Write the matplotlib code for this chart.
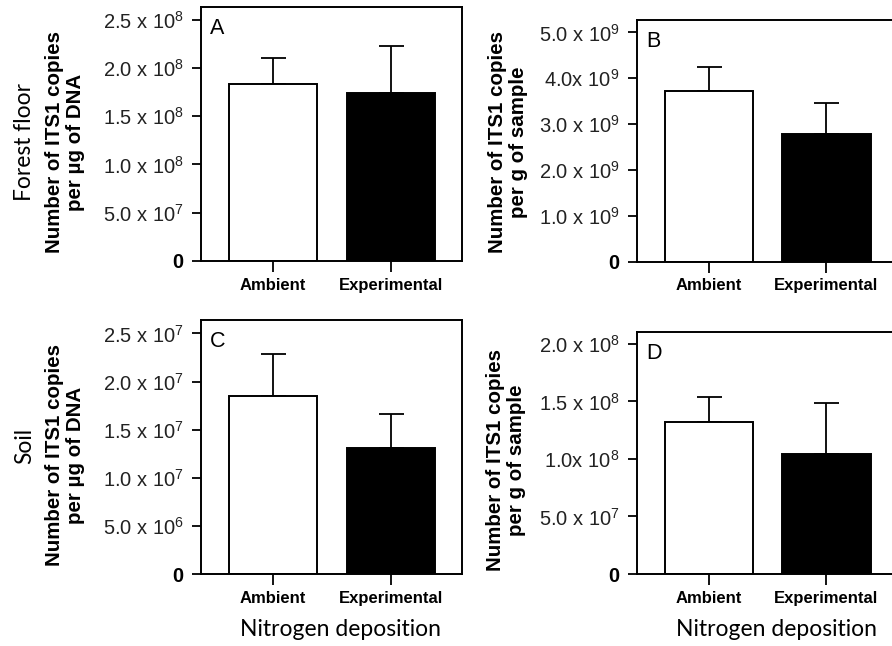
import matplotlib
matplotlib.use("Agg")
import matplotlib.pyplot as plt

plt.rcParams['font.family'] = ['Liberation Sans', 'DejaVu Sans']
plt.rcParams['mathtext.fontset'] = 'custom'
plt.rcParams['mathtext.rm'] = 'Liberation Sans'
plt.rcParams['mathtext.default'] = 'regular'

categories = ['Ambient', 'Experimental']

means_A = [1.83e8, 1.74e8]
err_A = [0.27e8, 0.49e8]
ticks_A = [0, 5e7, 1e8, 1.5e8, 2e8, 2.5e8]
labels_A = ['0', '5.0 x 10$^{7}$', '1.0 x 10$^{8}$', '1.5 x 10$^{8}$', '2.0 x 10$^{8}$', '2.5 x 10$^{8}$']

means_B = [3.72e9, 2.78e9]
err_B = [0.53e9, 0.68e9]
ticks_B = [0, 1e9, 2e9, 3e9, 4e9, 5e9]
labels_B = ['0', '1.0 x 10$^{9}$', '2.0 x 10$^{9}$', '3.0 x 10$^{9}$', '4.0x 10$^{9}$', '5.0 x 10$^{9}$']

means_C = [1.85e7, 1.31e7]
err_C = [0.44e7, 0.35e7]
ticks_C = [0, 5e6, 1e7, 1.5e7, 2e7, 2.5e7]
labels_C = ['0', '5.0 x 10$^{6}$', '1.0 x 10$^{7}$', '1.5 x 10$^{7}$', '2.0 x 10$^{7}$', '2.5 x 10$^{7}$']

means_D = [1.32e8, 1.04e8]
err_D = [0.22e8, 0.45e8]
ticks_D = [0, 5e7, 1e8, 1.5e8, 2e8]
labels_D = ['0', '5.0 x 10$^{7}$', '1.0x 10$^{8}$', '1.5 x 10$^{8}$', '2.0 x 10$^{8}$']

W, H = 892, 646
fig = plt.figure(figsize=(W / 100, H / 100), dpi=100)


def px_axes(left, right, top, bottom):
    return fig.add_axes([left / W, (H - bottom) / H, (right - left) / W, (bottom - top) / H])


panels = [
    ('A', px_axes(201, 462, 7, 261), means_A, err_A, ticks_A, labels_A, 2.63e8),
    ('B', px_axes(637, 897, 20, 261.7), means_B, err_B, ticks_B, labels_B, 5.27e9),
    ('C', px_axes(201, 462, 320, 574), means_C, err_C, ticks_C, labels_C, 2.64e7),
    ('D', px_axes(637, 897, 332.3, 574), means_D, err_D, ticks_D, labels_D, 2.10e8),
]

x = [0, 1]
for letter, ax, means, errs, ticks, labels, ymax in panels:
    ax.bar(x, means, width=0.75, color=['white', 'black'], edgecolor='black', linewidth=1.4, zorder=2)
    ax.errorbar(x, means, yerr=[[0, 0], errs], fmt='none', ecolor='black',
                elinewidth=1.3, capsize=9, capthick=1.3, zorder=1)
    ax.set_xlim(-0.61, 1.60)
    ax.set_ylim(0, ymax)
    ax.set_yticks(ticks)
    ax.set_yticklabels(labels, fontsize=14.5, color='#222222')
    ax.get_yticklabels()[0].set_fontweight('bold')
    ax.get_yticklabels()[0].set_color('black')
    ax.set_xticks(x)
    ax.set_xticklabels(categories, fontsize=12, fontweight='bold')
    ax.tick_params(axis='y', direction='out', length=6.5, width=1.3, pad=6)
    ax.tick_params(axis='x', direction='out', length=8, width=1.3, pad=4)
    for s in ax.spines.values():
        s.set_linewidth(1.4)
    ax.text(0.035, 0.955, letter, transform=ax.transAxes, fontsize=15.5, ha='left', va='top')

# y-axis labels
ylab_dna = 'Number of ITS1 copies\nper µg of DNA'
ylab_sample = 'Number of ITS1 copies\nper g of sample'
ykw = dict(rotation=90, ha='center', va='center', fontsize=14.8, fontweight='bold', linespacing=1.12)
fig.text(65 / W, 1 - 142 / H, ylab_dna, **ykw)
fig.text(508 / W, 1 - 142 / H, ylab_sample, **ykw)
fig.text(65 / W, 1 - 455 / H, ylab_dna, **ykw)
fig.text(506 / W, 1 - 460 / H, ylab_sample, **ykw)

# row labels
fig.text(25 / W, 1 - 142 / H, 'Forest floor', rotation=90, ha='center', va='center',
         fontsize=16.4, family=['Lato', 'DejaVu Sans'])
fig.text(25 / W, 1 - 446 / H, 'Soil', rotation=90, ha='center', va='center',
         fontsize=16.4, family=['Lato', 'DejaVu Sans'])

# x labels
fig.text(340 / W, 1 - 630 / H, 'Nitrogen deposition', ha='center', va='center',
         fontsize=16.5, family=['Lato', 'DejaVu Sans'])
fig.text(777 / W, 1 - 630 / H, 'Nitrogen deposition', ha='center', va='center',
         fontsize=16.5, family=['Lato', 'DejaVu Sans'])

fig.savefig('out.png', dpi=100, facecolor='white')
